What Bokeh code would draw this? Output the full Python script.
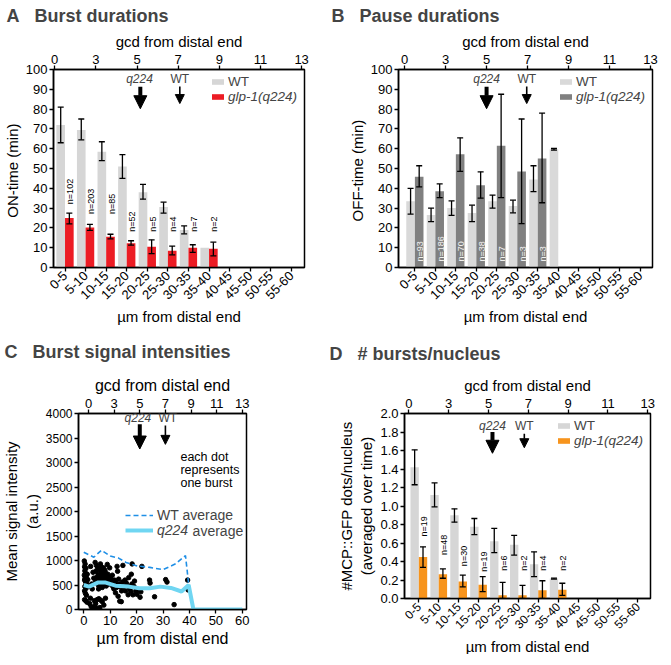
from math import pi
from bokeh.plotting import figure
from bokeh.models import (ColumnDataSource, FixedTicker, LinearAxis, Range1d, Whisker,
                          TeeHead, Legend, LegendItem, Arrow, NormalHead, Label)
from bokeh.layouts import row, column
from bokeh.embed import file_html
from bokeh.resources import INLINE
from bokeh.core.properties import value

FONT = "Liberation Sans"

# ---------------- shared axis data ----------------
BIN_LABELS = ["0-5", "5-10", "10-15", "15-20", "20-25", "25-30",
              "30-35", "35-40", "40-45", "45-50", "50-55", "55-60"]
BIN_CENTERS = [2.5, 7.5, 12.5, 17.5, 22.5, 27.5, 32.5, 37.5, 42.5, 47.5, 52.5, 57.5]
GCD_LABELS = ["0", "3", "5", "7", "9", "11", "13"]
GCD_AT_UM = [0, 10, 20, 30, 40, 50, 60]
GCD_AT_UM_C = [1.8, 11.5, 21.2, 30.9, 40.6, 50.3, 60]
UM_TICKS_C = [0, 10, 20, 30, 40, 50, 60]

# ---------------- A: burst durations (ON-time, min) ----------------
A_YTICKS = [0, 10, 20, 30, 40, 50, 60, 70, 80, 90, 100]
A_WT = [72, 69.5, 58.5, 51, 38, 30.5, 19, 10]
A_WT_LO = [63, 64.5, 54, 45, 34.5, 27.5, 17, None]
A_WT_HI = [81, 75, 63.5, 57, 42, 33, 21, None]
A_MUT = [25, 20.2, 15.5, 12.3, 10.5, 8.5, 10, 9.5]
A_MUT_LO = [22, 18.8, 14.5, 11.3, 7, 6.4, 7.6, 5.9]
A_MUT_HI = [27.5, 21.8, 16.8, 13.5, 14, 10.8, 11.5, 12.8]
A_N = ["n=102", "n=203", "n=85", "n=52", "n=5", "n=4", "n=7", "n=2"]
A_N_Y = [32, 27, 27, 18, 18, 18, 18, 18]

# ---------------- B: pause durations (OFF-time, min) ----------------
B_YTICKS = A_YTICKS
B_WT = [33.5, 26.5, 30, 27.5, 33.5, 31, 44.5, 59.7]
B_WT_LO = [27, 23.2, 26.3, 23.2, 30, 27.6, 38.3, 59.3]
B_WT_HI = [40, 30, 33.6, 31.5, 36.6, 34, 51.4, 60.1]
B_MUT = [45.8, 38.5, 57.2, 41.5, 61.5, 48.5, 55.1]
B_MUT_LO = [40.7, 35.3, 48.5, 35, 35.3, 22.2, 32.7]
B_MUT_HI = [51.4, 42.2, 65.5, 48.3, 87.5, 75, 78]
B_N = ["n=93", "n=186", "n=70", "n=38", "n=7", "n=3", "n=3"]
B_N_Y = [3, 3, 3, 3, 3, 3, 3]

# ---------------- C: burst signal intensities ----------------
C_YTICKS = [0, 500, 1000, 1500, 2000, 2500, 3000, 3500, 4000]
C_WT_X = [0, 3.8, 6.7, 10, 13, 16, 20.3, 25, 30, 34.8, 38.5, 39.7]
C_WT_Y = [1167, 1067, 1210, 1090, 1053, 960, 887, 860, 813, 933, 1100, 520]
C_Q_X = [0, 2, 5.5, 8, 12, 17, 21, 25, 29, 33, 37, 39.7, 41.5, 60]
C_Q_Y = [500, 467, 553, 553, 487, 467, 433, 433, 467, 440, 367, 500, 0, 0]
C_DOT_X = [0.2, 0.5, 0.3, 0.8, 0.4, 0.6, 0.2, 0.9, 0.5, 0.3, 0.7, 1.1, 0.4, 0.8, 0.3, 0.6,
           1.0, 0.3, 0.7, 1.2, 1.5, 1.3, 1.8,
           2.2, 2.8, 3.3, 2.5, 3.0, 3.5, 2.6, 3.8, 3.2, 4.0,
           4.3, 4.8, 5.2, 4.6, 5.5, 4.9, 5.8, 4.4, 5.3, 6.0, 6.3, 6.6, 6.2, 7.0, 6.8, 7.4,
           6.5, 7.2, 6.9, 7.7, 7.5, 8.0, 8.3, 7.9, 8.6, 8.2, 8.8, 9.1, 9.4, 9.0, 9.6, 8.5,
           7.0, 5.6, 9.8, 8.9, 6.1, 5.0, 7.6, 8.4,
           4.5, 5.0, 5.7, 6.4, 7.0, 7.6, 6.1, 5.3, 8.2, 4.2,
           10.3, 10.7, 11.2, 11.0, 11.6, 12.1, 12.4, 12.8, 13.2, 13.5, 13.9, 14.3, 14.6, 12.0,
           13.0, 13.6, 14.2, 11.4, 10.8, 15.0, 14.8, 12.6,
           15.6, 16.1, 16.5, 17.0, 17.4, 17.8, 18.2, 18.6, 19.0, 18.3, 19.7, 20.1, 22.0, 20.9,
           21.3, 21.6, 16.8, 18.0, 19.2, 15.8,
           24.9, 25.1, 26.8, 31.0, 31.5, 34.2, 39.3, 39.5]
C_DOT_Y = [990, 930, 870, 840, 790, 740, 700, 680, 640, 600, 560, 530, 470, 430, 380, 330,
           290, 200, 180, 150, 610, 720, 470,
           120, 60, 30, 230, 520, 760, 880, 640, 420, 180,
           960, 900, 840, 780, 720, 660, 600, 560, 510, 470, 930, 870, 800, 760, 700, 650,
           620, 580, 540, 500, 850, 800, 740, 690, 640, 600, 560, 720, 660, 610, 520, 480,
           450, 420, 850, 920, 650, 600, 760, 540,
           120, 200, 220, 190, 160, 90, 40, 20, 230, 60,
           620, 560, 510, 470, 600, 550, 450, 780, 620, 520, 470, 380, 560, 340,
           270, 170, 160, 420, 700, 460, 900, 880,
           600, 540, 480, 650, 420, 370, 520, 300, 470, 930, 380, 310, 880, 400,
           250, 360, 300, 720, 580, 380,
           600, 540, 260, 610, 560, 100, 600, 400]

# ---------------- D: # bursts / nucleus ----------------
D_YTICKS = [0, 0.2, 0.4, 0.6, 0.8, 1.0, 1.2, 1.4, 1.6, 1.8, 2.0]
D_WT = [1.42, 1.12, 0.9, 0.775, 0.62, 0.58, 0.37, 0.215]
D_WT_LO = [1.23, 0.99, 0.825, 0.69, 0.495, 0.47, 0.236, 0.21]
D_WT_HI = [1.607, 1.25, 0.97, 0.865, 0.758, 0.683, 0.505, 0.22]
D_MUT = [0.448, 0.263, 0.185, 0.15, 0.035, 0.035, 0.09, 0.094]
D_MUT_LO = [0.337, 0.219, 0.125, 0.074, 0.0, 0.0, 0.0, 0.034]
D_MUT_HI = [0.559, 0.32, 0.253, 0.236, 0.175, 0.141, 0.192, 0.165]
D_N = ["n=19", "n=48", "n=30", "n=19", "n=6", "n=2", "n=4", "n=2"]
D_N_Y = [0.67, 0.47, 0.35, 0.29, 0.30, 0.30, 0.30, 0.30]


def make_fig(fw, fh, xr, yr, borders):
    bl, br, bt, bb = borders
    p = figure(frame_width=fw, frame_height=fh, x_range=Range1d(*xr), y_range=Range1d(*yr),
               output_backend="svg", toolbar_location=None,
               min_border_left=bl, min_border_right=br,
               min_border_top=bt, min_border_bottom=bb)
    p.xgrid.visible = False
    p.ygrid.visible = False
    p.outline_line_color = "black"
    p.outline_line_width = 1.5
    p.outline_line_alpha = 1.0
    return p


def style_axis(ax, tick_size="13px", label_size="15px"):
    ax.axis_line_width = 1.5
    ax.axis_line_color = "black"
    ax.major_tick_line_width = 1.3
    ax.major_tick_line_color = "black"
    ax.major_tick_out = 4
    ax.major_tick_in = 0
    ax.minor_tick_line_color = None
    ax.major_label_text_font = FONT
    ax.major_label_text_font_size = tick_size
    ax.major_label_text_color = "black"
    ax.axis_label_text_font = FONT
    ax.axis_label_text_font_size = label_size
    ax.axis_label_text_font_style = "normal"
    ax.axis_label_text_color = "black"
    ax.major_label_standoff = 2
    ax.axis_label_standoff = 2


def set_title(p, letter, text, left, standoff=0):
    p.title.text = letter + "\u00a0\u00a0\u00a0" + text
    p.title.text_font = FONT
    p.title.text_font_size = "18px"
    p.title.text_font_style = "bold"
    p.title.align = "left"
    p.title.offset = -(left - 1)
    p.title.standoff = standoff


def add_top_gcd(p, positions, tick_size="13px", label_size="15px"):
    ax = LinearAxis(ticker=FixedTicker(ticks=positions),
                    major_label_overrides={float(u): l for u, l in zip(positions, GCD_LABELS)},
                    axis_label="gcd from distal end")
    style_axis(ax, tick_size, label_size)
    p.add_layout(ax, "above")


def add_arrows(p, xq, xw, lq, lw, y_text, q_top, q_tip, w_top, w_tip, fsize="12px"):
    p.add_layout(Label(x=lq, y=y_text, text="q224", text_font=FONT, text_font_size=fsize,
                       text_font_style="italic", text_align="center", text_baseline="middle"))
    p.add_layout(Label(x=lw, y=y_text, text="WT", text_font=FONT, text_font_size=fsize,
                       text_align="center", text_baseline="middle"))
    p.add_layout(Arrow(end=NormalHead(size=13, fill_color="black", line_color="black", line_width=1),
                       x_start=xq, y_start=q_top, x_end=xq, y_end=q_tip,
                       line_width=4, line_color="black"))
    p.add_layout(Arrow(end=NormalHead(size=9, fill_color="black", line_color="black", line_width=1),
                       x_start=xw, y_start=w_top, x_end=xw, y_end=w_tip,
                       line_width=1.6, line_color="black"))


def whiskers(p, xs, lo, hi):
    b, l, u = [], [], []
    for x, a, c in zip(xs, lo, hi):
        if a is not None and c is not None:
            b.append(x); l.append(a); u.append(c)
    src = ColumnDataSource(dict(base=b, lower=l, upper=u))
    wk = Whisker(source=src, base="base", lower="lower", upper="upper",
                 line_color="black", line_width=1.3, level="overlay",
                 upper_head=TeeHead(size=6, line_width=1.3, line_color="black"),
                 lower_head=TeeHead(size=6, line_width=1.3, line_color="black"))
    p.add_layout(wk)


def bar_panel(fw, fh, xr, yr, borders, letter, title, ylabel, yticks, tick_fmt,
              wt, wt_lo, wt_hi, mut, mut_lo, mut_hi, n_text, n_y, n_color,
              wt_color, mut_color, title_standoff=0, xtick_size="13px"):
    p = make_fig(fw, fh, xr, yr, borders)
    set_title(p, letter, title, borders[0], title_standoff)
    p.xaxis.ticker = FixedTicker(ticks=BIN_CENTERS)
    p.xaxis.major_label_overrides = {float(c): l for c, l in zip(BIN_CENTERS, BIN_LABELS)}
    p.xaxis.major_label_orientation = pi / 4
    p.xaxis.axis_label = "µm from distal end"
    style_axis(p.xaxis[0], xtick_size)
    p.yaxis.ticker = FixedTicker(ticks=yticks)
    if tick_fmt:
        p.yaxis.major_label_overrides = {float(t): tick_fmt.format(t) for t in yticks}
    p.yaxis.axis_label = ylabel
    style_axis(p.yaxis[0])
    add_top_gcd(p, GCD_AT_UM)

    xw = [c - 1.05 for c in BIN_CENTERS[:len(wt)]]
    xm = [c + 1.05 for c in BIN_CENTERS[:len(mut)]]
    r_wt = p.vbar(x=xw, top=wt, width=2.1, fill_color=wt_color, line_color=None)
    r_mut = p.vbar(x=xm, top=mut, width=2.1, fill_color=mut_color, line_color=None)
    whiskers(p, xw, wt_lo, wt_hi)
    whiskers(p, xm, mut_lo, mut_hi)
    p.text(x=[c + 1.3 for c in BIN_CENTERS[:len(n_text)]], y=n_y, text=n_text,
           angle=pi / 2, text_font=value(FONT), text_font_size="9px",
           text_align="left", text_baseline="middle", text_color=n_color)

    common = dict(label_text_font=FONT, label_text_font_size="13.5px", glyph_width=15,
                  glyph_height=7, label_standoff=3, padding=0, margin=0, spacing=0,
                  border_line_color=None, background_fill_alpha=0, label_height=15)
    lg1 = Legend(items=[LegendItem(label="WT", renderers=[r_wt])],
                 location=(fw - 94, fh - 20), **common)
    lg2 = Legend(items=[LegendItem(label="glp-1(q224)", renderers=[r_mut])],
                 location=(fw - 94, fh - 35), label_text_font_style="italic", **common)
    p.add_layout(lg1)
    p.add_layout(lg2)
    return p


# ---------------- Panel A ----------------
pa = bar_panel(251, 198, (-0.3, 60.7), (0, 100), (48, 26, 61, 61), "A", "Burst durations",
               "ON-time  (min)", A_YTICKS, None,
               A_WT, A_WT_LO, A_WT_HI, A_MUT, A_MUT_LO, A_MUT_HI, A_N, A_N_Y, "black",
               "#d6d6d6", "#ec1c24", title_standoff=7)
add_arrows(pa, 20.8, 30.4, 20.6, 30.4, 95.2, 91.3, 80.2, 91.4, 82.8)

# ---------------- Panel B ----------------
pb = bar_panel(254, 198, (-1.5, 60.5), (0, 100), (68, 8, 61, 61), "B", "Pause durations",
               "OFF-time  (min)", B_YTICKS, None,
               B_WT, B_WT_LO, B_WT_HI, B_MUT, B_MUT_LO, B_MUT_HI, B_N, B_N_Y, "#f2f2f2",
               "#d9d9d9", "#808080", title_standoff=7)
add_arrows(pb, 20.0, 29.8, 20.0, 29.8, 95.2, 91.3, 80.2, 91.4, 82.8)

# ---------------- Panel D ----------------
pd_ = bar_panel(246, 185, (-1.1, 60.7), (0, 2.0), (76, 8, 82, 57), "D", "# bursts/nucleus",
                "#MCP::GFP dots/nucleus\n(averaged over time)", D_YTICKS, "{:.1f}",
                D_WT, D_WT_LO, D_WT_HI, D_MUT, D_MUT_LO, D_MUT_HI, D_N, D_N_Y, "black",
                "#d6d6d6", "#f7941d", title_standoff=20, xtick_size="12px")
add_arrows(pd_, 21.0, 29.0, 21.0, 29.0, 1.87, 1.80, 1.57, 1.78, 1.63)

# ---------------- Panel C ----------------
CFW, CFH = 168, 196
pc = make_fig(CFW, CFH, (-2.0, 61.6), (0, 4000), (75, 82, 84, 51))
set_title(pc, "C", "Burst signal intensities", 75, 23)
pc.xaxis.ticker = FixedTicker(ticks=UM_TICKS_C)
pc.xaxis.axis_label = "µm from distal end"
style_axis(pc.xaxis[0], "13px", "16px")
pc.yaxis.ticker = FixedTicker(ticks=C_YTICKS)
pc.yaxis.axis_label = "Mean signal intensity\n(a.u.)"
style_axis(pc.yaxis[0], "12px", "15px")
add_top_gcd(pc, GCD_AT_UM_C, "13px", "16px")

pc.scatter(C_DOT_X, C_DOT_Y, size=4.5, color="black")
r_cwt = pc.line(C_WT_X, C_WT_Y, line_color="#1f8fe6", line_width=1.6, line_dash="5 3")
r_cq = pc.line(C_Q_X, C_Q_Y, line_color="#70d6f2", line_width=4)

ccommon = dict(label_text_font=FONT, label_text_font_size="14px", glyph_width=28,
               glyph_height=10, label_standoff=4, padding=0, margin=0, spacing=0,
               border_line_color=None, background_fill_alpha=0, label_height=15)
pc.add_layout(Legend(items=[LegendItem(label="WT average", renderers=[r_cwt])],
                     location=(47, CFH - 110), **ccommon))
pc.add_layout(Legend(items=[LegendItem(label="q224", renderers=[r_cq])],
                     location=(47, CFH - 125), label_text_font_style="italic", **ccommon))
pc.add_layout(Label(x=41.2, y=1612, text="average", text_font=FONT, text_font_size="14px",
                    text_align="left", text_baseline="middle"))
pc.text(x=[36.6, 36.6, 36.6], y=[3107, 2843, 2579],
        text=["each dot", "represents", "one burst"], text_font=value(FONT),
        text_font_size="12.5px", text_align="left", text_baseline="middle")
add_arrows(pc, 21.2, 30.9, 20.5, 31.8, 3905, 3783, 3275, 3756, 3370)

layout = column(row(pa, pb), row(pc, pd_))
open("out.html", "w").write(file_html(layout, INLINE))
